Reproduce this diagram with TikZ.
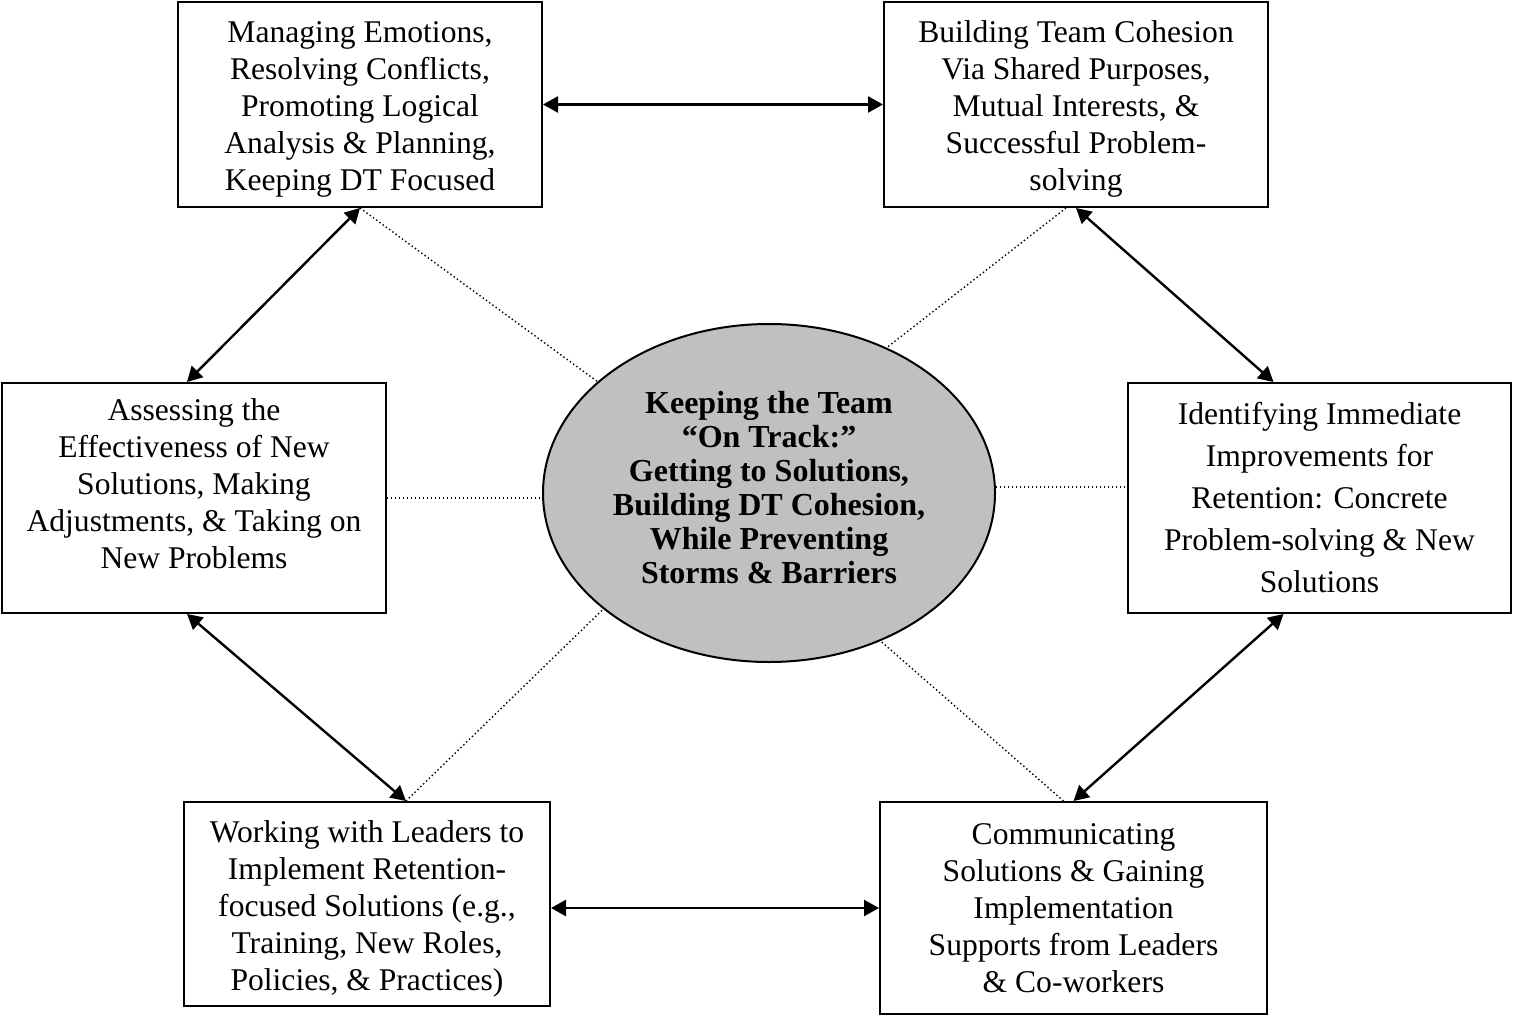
\documentclass[tikz,border=0pt]{standalone}
\usepackage{fontspec}
\setmainfont{Liberation Serif}
\usetikzlibrary{arrows.meta,positioning,shapes.geometric}
\definecolor{hubgray}{HTML}{C0C0C0}
\newcommand{\padtop}[1]{\rule{0pt}{#1}}
\newcommand{\padbot}[1]{\rule[-#1]{0pt}{#1}}
\tikzset{
  box/.style={rectangle, draw, line width=1pt, align=center, inner sep=0pt,
              font=\fontsize{15.8}{18.5}\selectfont},
  hub/.style={ellipse, draw, line width=1pt, fill=hubgray, align=center, inner sep=0pt,
              minimum width=226pt, minimum height=169pt,
              font=\fontsize{16}{17}\selectfont\bfseries},
  link/.style={{Triangle[length=7.5pt,width=8pt]}-{Triangle[length=7.5pt,width=8pt]},
               line width=1.2pt},
  spoke/.style={line width=0.7pt, dash pattern=on 0.7pt off 1.3pt},
}
\begin{document}
\begin{tikzpicture}[x=0.5pt,y=-0.5pt]
  \useasboundingbox (0,0) rectangle (1513,1016);
  % centre
  \node[hub] (track) at (769,493) {Keeping the Team\\“On Track:”\\Getting to Solutions,\\Building DT Cohesion,\\While Preventing\\Storms \& Barriers\padbot{6pt}};
  % the six boxes
  \node[box, minimum width=182pt, minimum height=102.5pt] (emot) at (360,104.5)
    {\padtop{15.5pt}Managing Emotions,\\Resolving Conflicts,\\Promoting Logical\\Analysis \& Planning,\\Keeping DT Focused};
  \node[box, minimum width=192pt, minimum height=102.5pt] (cohes) at (1076,104.5)
    {\padtop{15.8pt}Building Team Cohesion\\Via Shared Purposes,\\Mutual Interests, \&\\Successful Problem-\\solving};
  \node[box, minimum width=192pt, minimum height=115pt] (assess) at (194,498)
    {Assessing the\\Effectiveness of New\\Solutions, Making\\Adjustments, \& Taking on\\New Problems\padbot{14.4pt}};
  \node[box, minimum width=191.5pt, minimum height=115pt, font=\fontsize{15.8}{21}\selectfont] (ident) at (1319.5,498)
    {Identifying Immediate\\Improvements for\\Retention: Concrete\\Problem-solving \& New\\Solutions};
  \node[box, minimum width=183pt, minimum height=102pt] (leaders) at (367,904)
    {\padtop{15.8pt}Working with Leaders to\\Implement Retention-\\focused Solutions (e.g.,\\Training, New Roles,\\Policies, \& Practices)};
  \node[box, minimum width=193.5pt, minimum height=106pt] (comm) at (1073.5,908)
    {Communicating\\Solutions \& Gaining\\Implementation\\Supports from Leaders\\\& Co-workers};
  % dotted spokes to the centre
  \draw[spoke] (emot.south) -- (track.147);
  \draw[spoke] ([xshift=-5pt]cohes.south) -- (track.51);
  \draw[spoke] (assess.east) -- (assess.east -| track.west);
  \draw[spoke] ([yshift=3pt]track.east) -- ([yshift=3pt]track.east -| ident.west);
  \draw[spoke] ([xshift=19.5pt]leaders.north) -- (track.215);
  \draw[spoke] ([xshift=-5pt]comm.north) -- (track.307);
  % the cycle
  \draw[link] (emot.east) -- (cohes.west);
  \draw[link] (cohes.south) -- ([xshift=-23pt]ident.north);
  \draw[link] ([xshift=-18pt]ident.south) -- (comm.north);
  \draw[link] (leaders.east |- comm.west) -- (comm.west);
  \draw[link] ([xshift=-3.5pt]assess.south) -- ([xshift=19.5pt]leaders.north);
  \draw[link] ([xshift=-3.5pt]assess.north) -- (emot.south);
\end{tikzpicture}
\end{document}
